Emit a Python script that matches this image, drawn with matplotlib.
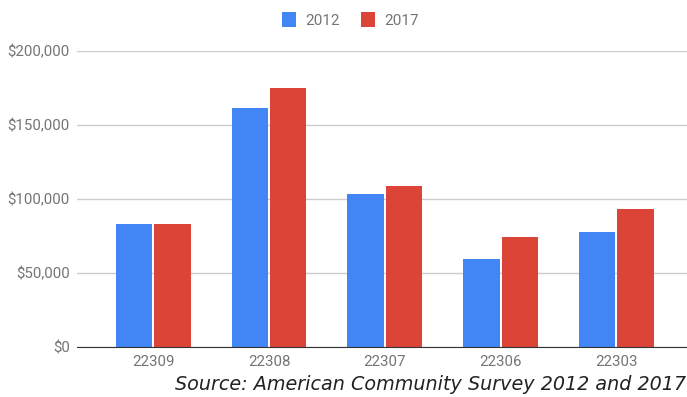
import numpy as np
import matplotlib.pyplot as plt
from matplotlib.ticker import FuncFormatter

# Values (median income by zip code)
zip_codes = ['22309', '22308', '22307', '22306', '22303']
values_2012 = [83300, 161700, 103200, 59200, 77500]
values_2017 = [83300, 175000, 109000, 74100, 93000]
series_names = ['2012', '2017']
y_ticks = [0, 50000, 100000, 150000, 200000]

blue = '#4285F4'
red = '#DB4437'
grey_text = '#757575'

fig = plt.figure(figsize=(6.87, 3.97), dpi=100)
ax = fig.add_axes([0.112, 0.126, 0.888, 0.7455])

x = np.arange(len(zip_codes))
w = 0.315
ax.bar(x - w / 2 - 0.008, values_2012, width=w, color=blue, label=series_names[0], zorder=3)
ax.bar(x + w / 2 + 0.008, values_2017, width=w, color=red, label=series_names[1], zorder=3)

ax.set_xlim(-0.66, 4.61)
ax.set_ylim(0, 200000)
ax.set_yticks(y_ticks)
ax.yaxis.set_major_formatter(FuncFormatter(lambda v, p: f'${v:,.0f}'))
ax.set_xticks(x)
ax.set_xticklabels(zip_codes)

ax.grid(axis='y', color='#cccccc', linewidth=1, zorder=0)
for s in ['top', 'right', 'left']:
    ax.spines[s].set_visible(False)
ax.spines['bottom'].set_color('#333333')
ax.spines['bottom'].set_zorder(4)
ax.tick_params(length=0, labelsize=10.8, labelcolor=grey_text, pad=6)
ax.tick_params(axis='y', pad=5)
for lbl in ax.get_xticklabels() + ax.get_yticklabels():
    lbl.set_family('Roboto')

fig.legend(loc='upper center', bbox_to_anchor=(0.51, 1.005), ncol=2, frameon=False,
           prop={'family': 'Roboto', 'size': 11}, labelcolor=grey_text,
           handlelength=0.9, handleheight=1.2, columnspacing=1.4, handletextpad=0.6)

fig.text(0.998, 0.008, 'Source: American Community Survey 2012 and 2017',
         ha='right', va='bottom', fontsize=13.8, style='italic', color='#222222',
         family='DejaVu Sans')

plt.savefig('out.png', dpi=100)
